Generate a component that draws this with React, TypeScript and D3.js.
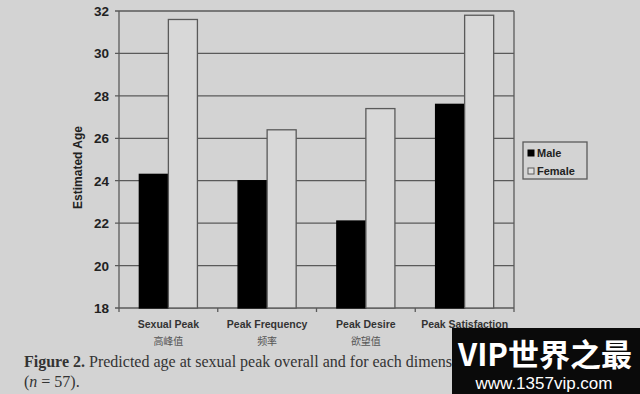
import React, { useEffect, useRef } from "react";
import * as d3 from "d3";

const categories = ["Sexual Peak", "Peak Frequency", "Peak Desire", "Peak Satisfaction"];
const categoriesZh = ["高峰值", "频率", "欲望值", ""];
const seriesNames = ["Male", "Female"];
const maleValues = [24.3, 24.0, 22.1, 27.6];
const femaleValues = [31.6, 26.4, 27.4, 31.8];
const yTicks = [18, 20, 22, 24, 26, 28, 30, 32];

const BG = "#d3d3d3";
const LINE = "#5a5a5a";

function App() {
  const ref = useRef<SVGSVGElement>(null);

  useEffect(() => {
    const svg = d3.select(ref.current);
    svg.selectAll("*").remove();

    const width = 640;
    const height = 394;
    const plot = { left: 119, right: 514, top: 11, bottom: 308 };

    svg.append("rect").attr("width", width).attr("height", height).attr("fill", BG);

    const x = d3.scaleBand().domain(categories).range([plot.left, plot.right]);
    const y = d3.scaleLinear().domain([18, 32]).range([plot.bottom, plot.top]);
    const xs = d3.scaleBand().domain(seriesNames).range([0, x.bandwidth()]).paddingInner(0).paddingOuter(0.7);

    const g = svg.append("g");

    // gridlines
    g.selectAll(".grid")
      .data(yTicks)
      .enter()
      .append("line")
      .attr("x1", plot.left - 4)
      .attr("x2", plot.right)
      .attr("y1", (d) => y(d))
      .attr("y2", (d) => y(d))
      .attr("stroke", LINE)
      .attr("stroke-width", 1.3);

    // plot frame verticals
    g.append("line")
      .attr("x1", plot.left).attr("x2", plot.left)
      .attr("y1", plot.top).attr("y2", plot.bottom)
      .attr("stroke", LINE).attr("stroke-width", 1.3);
    g.append("line")
      .attr("x1", plot.right).attr("x2", plot.right)
      .attr("y1", plot.top).attr("y2", plot.bottom)
      .attr("stroke", LINE).attr("stroke-width", 1.3);

    // category ticks
    const bounds = categories.map((c) => x(c)!).concat([plot.right]);
    g.selectAll(".ctick")
      .data(bounds)
      .enter()
      .append("line")
      .attr("x1", (d) => d).attr("x2", (d) => d)
      .attr("y1", plot.bottom).attr("y2", plot.bottom + 4)
      .attr("stroke", LINE).attr("stroke-width", 1.3);

    const barData = categories.flatMap((c, i) => [
      { cat: c, s: "Male", v: maleValues[i] },
      { cat: c, s: "Female", v: femaleValues[i] },
    ]);

    g.selectAll(".bar")
      .data(barData)
      .enter()
      .append("rect")
      .attr("x", (d) => x(d.cat)! + xs(d.s)!)
      .attr("width", xs.bandwidth())
      .attr("y", (d) => y(d.v))
      .attr("height", (d) => plot.bottom - y(d.v))
      .attr("fill", (d) => (d.s === "Male" ? "#000" : "#d8d8d8"))
      .attr("stroke", (d) => (d.s === "Male" ? "#000" : LINE))
      .attr("stroke-width", 1.3);

    // y tick labels
    g.selectAll(".ylab")
      .data(yTicks)
      .enter()
      .append("text")
      .attr("x", 109)
      .attr("y", (d) => y(d) + 5)
      .attr("text-anchor", "end")
      .attr("font-family", "Liberation Sans, Arial, sans-serif")
      .attr("font-weight", "bold")
      .attr("font-size", 13.5)
      .attr("fill", "#222")
      .text((d) => d);

    g.append("text")
      .attr("transform", `translate(82,${(plot.top + plot.bottom) / 2 + 8}) rotate(-90)`)
      .attr("text-anchor", "middle")
      .attr("font-family", "Liberation Sans, Arial, sans-serif")
      .attr("font-weight", "bold")
      .attr("font-size", 12)
      .attr("fill", "#222")
      .text("Estimated Age");

    // category labels
    g.selectAll(".clab")
      .data(categories)
      .enter()
      .append("text")
      .attr("x", (d) => x(d)! + x.bandwidth() / 2)
      .attr("y", 328)
      .attr("text-anchor", "middle")
      .attr("font-family", "Liberation Sans, Arial, sans-serif")
      .attr("font-weight", "bold")
      .attr("font-size", 10.5)
      .attr("fill", "#333")
      .text((d) => d);

    g.selectAll(".czh")
      .data(categoriesZh)
      .enter()
      .append("text")
      .attr("x", (d, i) => x(categories[i])! + x.bandwidth() / 2)
      .attr("y", 345)
      .attr("text-anchor", "middle")
      .attr("font-family", "Noto Sans CJK SC, sans-serif")
      .attr("font-size", 10)
      .attr("fill", "#555")
      .text((d) => d);

    // legend
    const lg = svg.append("g").attr("transform", "translate(523,142)");
    lg.append("rect").attr("width", 64).attr("height", 37)
      .attr("fill", BG).attr("stroke", LINE).attr("stroke-width", 1.3);
    seriesNames.forEach((s, i) => {
      lg.append("rect")
        .attr("x", 5).attr("y", 8 + i * 18)
        .attr("width", 6).attr("height", 6)
        .attr("fill", s === "Male" ? "#000" : "#e0e0e0")
        .attr("stroke", s === "Male" ? "#000" : LINE);
      lg.append("text")
        .attr("x", 14).attr("y", 15 + i * 18)
        .attr("font-family", "Liberation Sans, Arial, sans-serif")
        .attr("font-weight", "bold")
        .attr("font-size", 11)
        .attr("fill", "#222")
        .text(s);
    });

    // caption
    const cap = svg.append("text")
      .attr("x", 24).attr("y", 367)
      .attr("font-family", "Liberation Serif, Times New Roman, serif")
      .attr("font-size", 16)
      .attr("fill", "#333");
    cap.append("tspan").attr("font-weight", "bold").text("Figure 2.");
    cap.append("tspan").text(" Predicted age at sexual peak overall and for each dimension");
    const cap2 = svg.append("text")
      .attr("x", 24).attr("y", 387)
      .attr("font-family", "Liberation Serif, Times New Roman, serif")
      .attr("font-size", 16)
      .attr("fill", "#333");
    cap2.append("tspan").text("(");
    cap2.append("tspan").attr("font-style", "italic").text("n");
    cap2.append("tspan").text(" = 57).");

    // watermark
    const wm = svg.append("g");
    wm.append("rect").attr("x", 452).attr("y", 328).attr("width", 188).attr("height", 66).attr("fill", "#0a0a0a");
    wm.append("text")
      .attr("x", 545).attr("y", 366)
      .attr("text-anchor", "middle")
      .attr("font-family", "Noto Sans CJK SC, sans-serif")
      .attr("font-weight", "bold")
      .attr("font-size", 31)
      .attr("fill", "#fff")
      .text("VIP世界之最");
    wm.append("text")
      .attr("x", 544).attr("y", 389)
      .attr("text-anchor", "middle")
      .attr("font-family", "Liberation Sans, Arial, sans-serif")
      .attr("font-size", 17)
      .attr("fill", "#fff")
      .text("www.1357vip.com");
  }, []);

  return (
    <svg
      ref={ref}
      width={640}
      height={394}
      style={{ position: "absolute", left: 0, top: 0, display: "block" }}
    />
  );
}

export default App;
